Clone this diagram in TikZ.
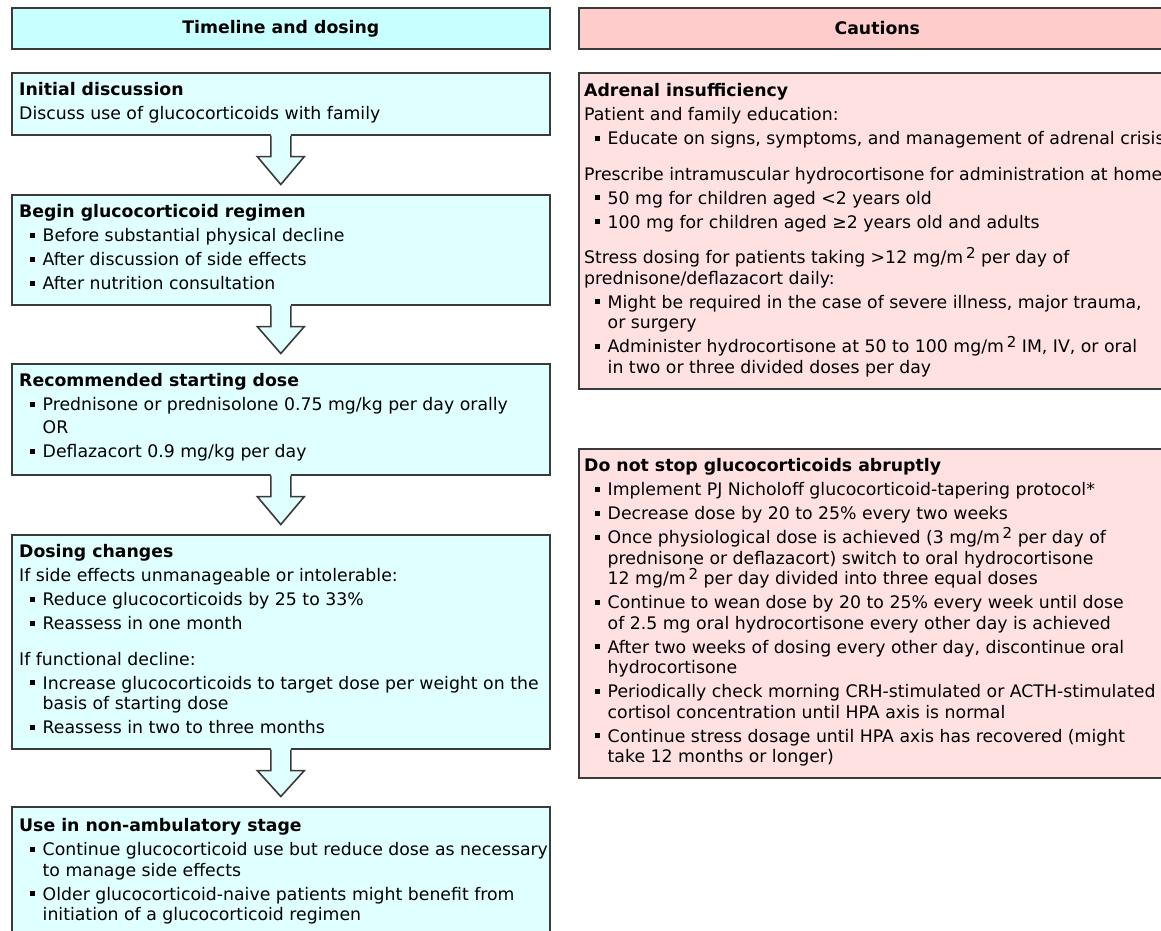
\documentclass[tikz,border=0pt]{standalone}
\usepackage{fontspec}
\setmainfont{DejaVu Sans}
\usetikzlibrary{calc}
\definecolor{lhead}{HTML}{C8FFFF}
\definecolor{lbody}{HTML}{E0FFFF}
\definecolor{rhead}{HTML}{FFCCCC}
\definecolor{rbody}{HTML}{FFE1E2}
\definecolor{edge}{HTML}{3A3A3A}
\newcommand{\bul}{\hspace*{10.5pt}\rule[4pt]{5pt}{5pt}\hspace*{8pt}}
\newcommand{\cont}{\hspace*{23.5pt}}
\newcommand{\sq}{\,\raisebox{5.5pt}{\fontsize{15}{15}\selectfont 2}}
\newcommand{\gap}{\\[3.5pt]}
\newcommand{\pgap}{\\[15pt]}
\tikzset{
  x=1pt, y=-1pt,
  boxbase/.style={draw=edge, line width=1.6pt, inner sep=0pt, anchor=north west},
  lhd/.style={boxbase, fill=lhead, font=\bfseries},
  rhd/.style={boxbase, fill=rhead, font=\bfseries},
  lbox/.style={boxbase, fill=lbody},
  rbox/.style={boxbase, fill=rbody},
  txt/.style={anchor=north west, inner sep=0pt, align=left},
  arrowfill/.style={fill=lbody},
  arrowline/.style={draw=edge, line width=1.6pt, line join=miter},
}
\newcommand{\blockarrow}[2]{%
  \fill[arrowfill] ($(#1.south)+(-10,-2)$) -- ($(#1.south)+(-10,21)$) -- ($(#1.south)+(-23.5,21)$)
     -- ($(#2.north)+(0,-9.5)$) -- ($(#1.south)+(23.5,21)$) -- ($(#1.south)+(10,21)$) -- ($(#1.south)+(10,-2)$) -- cycle;
  \draw[arrowline] ($(#1.south)+(-10,0)$) -- ($(#1.south)+(-10,21)$) -- ($(#1.south)+(-23.5,21)$)
     -- ($(#2.north)+(0,-9.5)$) -- ($(#1.south)+(23.5,21)$) -- ($(#1.south)+(10,21)$) -- ($(#1.south)+(10,0)$);
}
\begin{document}
\begin{tikzpicture}[font=\fontsize{17.3}{20.5}\selectfont]
\useasboundingbox (0,0) rectangle (1161,930);
\clip (0,0) rectangle (1161,930);
\fill[white] (0,0) rectangle (1161,930);

% headers
\node[lhd, minimum width=538, minimum height=41] (hl) at (11,7) {};
\node (hlt) at (hl.center) {\bfseries Timeline and dosing};
\node[rhd, minimum width=597, minimum height=41] (hr) at (578,7) {};
\node (hrt) at (hr.center) {\bfseries Cautions};

% left boxes
\node[lbox, minimum width=538, minimum height=62] (b1) at (11,72) {};
\node[lbox, minimum width=538, minimum height=110] (b2) at (11,194) {};
\node[lbox, minimum width=538, minimum height=111] (b3) at (11,363) {};
\node[lbox, minimum width=538, minimum height=214] (b4) at (11,534) {};
\node[lbox, minimum width=538, minimum height=150] (b5) at (11,806) {};

% right boxes
\node[rbox, minimum width=597, minimum height=316] (r1) at (578,72) {};
\node[rbox, minimum width=597, minimum height=329] (r2) at (578,448) {};

% arrows
\blockarrow{b1}{b2}
\blockarrow{b2}{b3}
\blockarrow{b3}{b4}
\blockarrow{b4}{b5}

% texts
\node[txt] (t1) at (19,81) {\strut\textbf{Initial discussion}\gap
Discuss use of glucocorticoids with family};

\node[txt] (t2) at (19,203) {\strut\textbf{Begin glucocorticoid regimen}\gap
\bul Before substantial physical decline\gap
\bul After discussion of side effects\gap
\bul After nutrition consultation};

\node[txt] (t3) at (19,372) {\strut\textbf{Recommended starting dose}\gap
\bul Prednisone or prednisolone 0.75 mg/kg per day orally\\[2.5pt]
\cont OR\gap
\bul Deflazacort 0.9 mg/kg per day};

\node[txt] (t4) at (19,543) {\strut\textbf{Dosing changes}\gap
If side effects unmanageable or intolerable:\gap
\bul Reduce glucocorticoids by 25 to 33\%\gap
\bul Reassess in one month\pgap
If functional decline:\gap
\bul Increase glucocorticoids to target dose per weight on the\\
\cont basis of starting dose\gap
\bul Reassess in two to three months};

\node[txt] (t5) at (19,817) {\strut\textbf{Use in non-ambulatory stage}\gap
\bul Continue glucocorticoid use but reduce dose as necessary\\
\cont to manage side effects\gap
\bul Older glucocorticoid-naive patients might benefit from\\
\cont initiation of a glucocorticoid regimen};

\node[txt] (t6) at (584,82) {\strut\textbf{Adrenal insufficiency}\gap
Patient and family education:\gap
\bul Educate on signs, symptoms, and management of adrenal crisis\pgap
Prescribe intramuscular hydrocortisone for administration at home\gap
\bul 50 mg for children aged <2 years old\gap
\bul 100 mg for children aged ≥2 years old and adults\pgap
Stress dosing for patients taking >12 mg/m\sq{} per day of\\
prednisone/deflazacort daily:\gap
\bul Might be required in the case of severe illness, major trauma,\\
\cont or surgery\gap
\bul Administer hydrocortisone at 50 to 100 mg/m\sq{} IM, IV, or oral\\
\cont in two or three divided doses per day};

\node[txt] (t7) at (584,457) {\strut\textbf{Do not stop glucocorticoids abruptly}\gap
\bul Implement PJ Nicholoff glucocorticoid-tapering protocol*\gap
\bul Decrease dose by 20 to 25\% every two weeks\gap
\bul Once physiological dose is achieved (3 mg/m\sq{} per day of\\
\cont prednisone or deflazacort) switch to oral hydrocortisone\\
\cont 12 mg/m\sq{} per day divided into three equal doses\gap
\bul Continue to wean dose by 20 to 25\% every week until dose\\
\cont of 2.5 mg oral hydrocortisone every other day is achieved\gap
\bul After two weeks of dosing every other day, discontinue oral\\
\cont hydrocortisone\gap
\bul Periodically check morning CRH-stimulated or ACTH-stimulated\\
\cont cortisol concentration until HPA axis is normal\gap
\bul Continue stress dosage until HPA axis has recovered (might\\
\cont take 12 months or longer)};
\end{tikzpicture}
\end{document}
